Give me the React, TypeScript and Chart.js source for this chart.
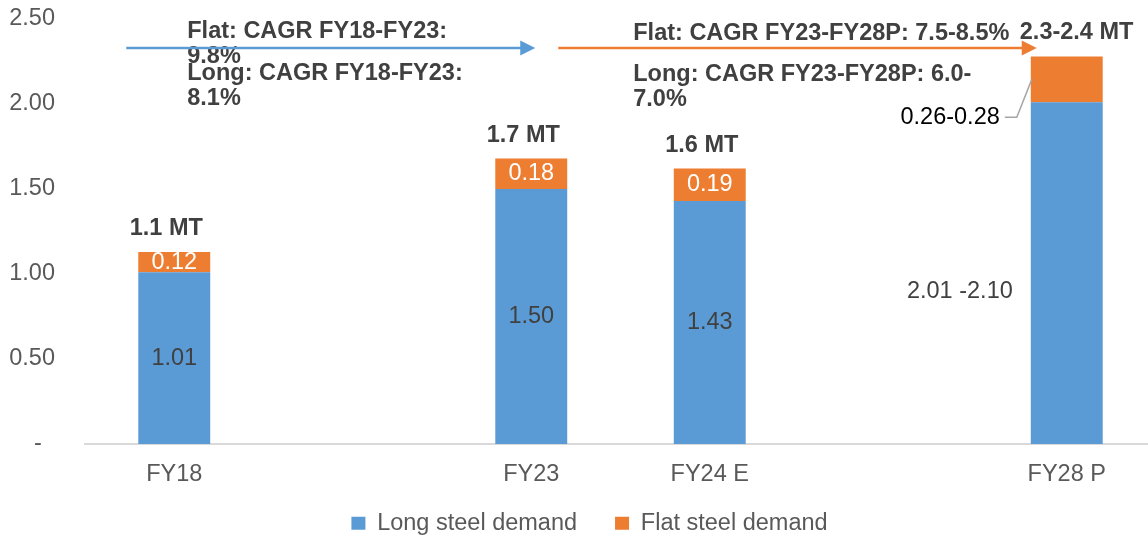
import React, { useEffect, useRef } from 'react';
import { Chart, registerables } from 'chart.js';

Chart.register(...registerables);

const categories = ['FY18', '', 'FY23', 'FY24 E', '', 'FY28 P'];
const longDemand = [1.01, null, 1.5, 1.43, null, 2.01];
const flatDemand = [0.12, null, 0.18, 0.19, null, 0.27];
const longLabels = ['1.01', '', '1.50', '1.43', '', '2.01 -2.10'];
const flatLabels = ['0.12', '', '0.18', '0.19', '', '0.26-0.28'];
const totalLabels = ['1.1 MT', '', '1.7 MT', '1.6 MT', '', '2.3-2.4 MT'];
const seriesNames = ['Long steel demand', 'Flat steel demand'];
const yTickValues = [0, 0.5, 1, 1.5, 2, 2.5];
const cagrFlatPast = ['Flat: CAGR FY18-FY23:', '9.8%'];
const cagrLongPast = ['Long: CAGR FY18-FY23:', '8.1%'];
const cagrFlatFuture = ['Flat: CAGR FY23-FY28P: 7.5-8.5%'];
const cagrLongFuture = ['Long: CAGR FY23-FY28P: 6.0-', '7.0%'];
// arrows span category indices (from, to) at a value level
const pastArrow = [0, 2];
const futureArrow = [2, 5];
const arrowLevel = 2.33;
const flatTextLevel = 2.425;
const longTextLevel = 2.18;

const FONT = '"Liberation Sans", Arial, Helvetica, sans-serif';
const BLUE = '#5B9BD5';
const ORANGE = '#ED7D31';
const FS = 23.5;

function drawArrow(ctx: CanvasRenderingContext2D, x1: number, x2: number, y: number, color: string) {
  ctx.save();
  ctx.strokeStyle = color;
  ctx.fillStyle = color;
  ctx.lineWidth = 2.5;
  ctx.beginPath();
  ctx.moveTo(x1, y);
  ctx.lineTo(x2 - 14, y);
  ctx.stroke();
  ctx.beginPath();
  ctx.moveTo(x2, y);
  ctx.lineTo(x2 - 15, y - 7.5);
  ctx.lineTo(x2 - 15, y + 7.5);
  ctx.closePath();
  ctx.fill();
  ctx.restore();
}

function drawLines(ctx: CanvasRenderingContext2D, lines: string[], x: number, y: number) {
  lines.forEach((t, k) => ctx.fillText(t, x, y + k * 25));
}

const annotations = {
  id: 'annotations',
  afterLayout(chart: any) {
    const lg = chart.legend;
    if (lg) {
      lg.left += 23;
      lg.top -= 15;
      lg.bottom -= 15;
    }
  },
  afterDatasetsDraw(chart: any) {
    const ctx: CanvasRenderingContext2D = chart.ctx;
    const xs = chart.scales.x;
    const ys = chart.scales.y;
    const mLong = chart.getDatasetMeta(0);
    const mFlat = chart.getDatasetMeta(1);
    ctx.save();
    ctx.textBaseline = 'middle';
    categories.forEach((_, i) => {
      if (longDemand[i] == null) return;
      const bl = mLong.data[i].getProps(['x', 'y', 'base', 'width'], true);
      const bf = mFlat.data[i].getProps(['x', 'y', 'base', 'width'], true);
      const left = bl.x - bl.width / 2;
      ctx.font = `${FS}px ${FONT}`;
      // long segment label
      const lc = (bl.y + bl.base) / 2;
      ctx.fillStyle = '#404040';
      if (longLabels[i].includes('-')) {
        ctx.textAlign = 'right';
        ctx.fillText(longLabels[i], left - 18, lc + 18);
      } else {
        ctx.textAlign = 'center';
        ctx.fillText(longLabels[i], bl.x, lc);
      }
      // flat segment label
      const fc = (bf.y + bf.base) / 2;
      if (flatLabels[i].includes('-')) {
        const ty = bf.base + 15;
        ctx.textAlign = 'right';
        ctx.fillStyle = '#000000';
        ctx.fillText(flatLabels[i], left - 31, ty);
        ctx.save();
        ctx.strokeStyle = '#A6A6A6';
        ctx.lineWidth = 1.5;
        ctx.beginPath();
        ctx.moveTo(left - 26, ty);
        ctx.lineTo(left - 14, ty);
        ctx.lineTo(left + 1, fc);
        ctx.stroke();
        ctx.restore();
      } else {
        ctx.textAlign = 'center';
        ctx.fillStyle = '#FFFFFF';
        ctx.fillText(flatLabels[i], bf.x, fc);
      }
      // total label
      ctx.font = `bold ${FS}px ${FONT}`;
      ctx.fillStyle = '#404040';
      if (totalLabels[i].includes('-')) {
        ctx.textAlign = 'left';
        ctx.fillText(totalLabels[i], left - 11, bf.y - 24);
      } else {
        ctx.textAlign = 'center';
        ctx.fillText(totalLabels[i], bl.x - 8, bf.y - 23);
      }
    });

    // CAGR texts
    ctx.font = `bold ${FS}px ${FONT}`;
    ctx.fillStyle = '#404040';
    ctx.textAlign = 'left';
    const p0 = xs.getPixelForValue(pastArrow[0]);
    const f0 = xs.getPixelForValue(futureArrow[0]);
    drawLines(ctx, cagrFlatPast, p0 + 13, ys.getPixelForValue(flatTextLevel));
    drawLines(ctx, cagrLongPast, p0 + 13, ys.getPixelForValue(longTextLevel));
    drawLines(ctx, cagrFlatFuture, f0 + 102, ys.getPixelForValue(flatTextLevel) + 2);
    drawLines(ctx, cagrLongFuture, f0 + 102, ys.getPixelForValue(longTextLevel) + 1);

    // arrows
    const ay = ys.getPixelForValue(arrowLevel);
    drawArrow(ctx, xs.getPixelForValue(pastArrow[0]) - 48, xs.getPixelForValue(pastArrow[1]) + 4, ay, BLUE);
    drawArrow(ctx, xs.getPixelForValue(futureArrow[0]) + 27, xs.getPixelForValue(futureArrow[1]) - 30, ay, ORANGE);
    ctx.restore();
  },
};

export default function App() {
  const ref = useRef<HTMLCanvasElement | null>(null);
  useEffect(() => {
    if (!ref.current) return;
    const chart = new Chart(ref.current, {
      type: 'bar',
      data: {
        labels: categories,
        datasets: [
          { label: seriesNames[0], data: longDemand, backgroundColor: BLUE, borderWidth: 0 },
          { label: seriesNames[1], data: flatDemand, backgroundColor: ORANGE, borderWidth: 0 },
        ],
      },
      options: {
        animation: false,
        responsive: true,
        maintainAspectRatio: false,
        layout: { padding: { top: 19, right: 23, left: 0, bottom: 0 } },
        datasets: { bar: { categoryPercentage: 1, barPercentage: 0.403 } },
        scales: {
          x: {
            stacked: true,
            grid: { display: false, drawTicks: false },
            border: { display: true, color: '#D9D9D9', width: 2 },
            ticks: { color: '#595959', font: { size: FS, family: FONT }, padding: 16, maxRotation: 0, autoSkip: false },
            afterFit: (s: any) => { s.height = 44.5; },
          },
          y: {
            stacked: true,
            min: 0,
            max: 2.5,
            afterBuildTicks: (s: any) => { s.ticks = yTickValues.map((v) => ({ value: v })); },
            grid: { display: false, drawTicks: false },
            border: { display: false },
            ticks: {
              color: '#595959',
              font: { size: FS, family: FONT },
              padding: 30,
              callback: (v: any) => (Number(v) === 0 ? '-\u2007' : Number(v).toFixed(2)),
            },
            afterFit: (s: any) => {
              s.width = 85;
              s.paddingTop = 0;
              s.paddingBottom = 0;
            },
          },
        },
        plugins: {
          legend: {
            position: 'bottom',
            labels: {
              boxWidth: 14,
              boxHeight: 13,
              padding: 38,
              color: '#595959',
              font: { size: FS, family: FONT },
            },
          },
          tooltip: { enabled: false },
        },
      },
      plugins: [annotations],
    } as any);
    return () => chart.destroy();
  }, []);
  return (
    <div style={{ position: 'fixed', left: 0, top: 0, width: 1148, height: 537, overflow: 'hidden', background: '#ffffff' }}>
      <div style={{ position: 'relative', width: 1179, height: 560 }}>
        <canvas ref={ref} />
      </div>
    </div>
  );
}
